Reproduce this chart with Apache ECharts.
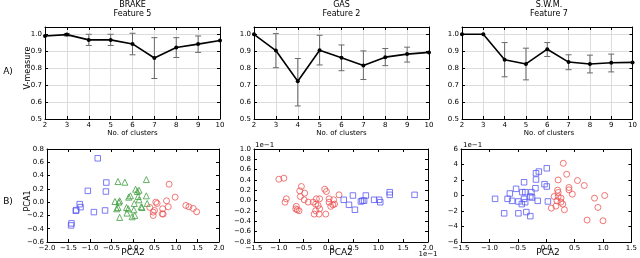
<!DOCTYPE html>
<html><head><meta charset="utf-8">
<script src="https://cdn.jsdelivr.net/npm/echarts@6/dist/echarts.min.js"></script>
<style>html,body{margin:0;padding:0;background:#fff}#c{width:640px;height:258px}</style>
</head><body><div id="c"></div>
<script>
const clusters = [2,3,4,5,6,7,8,9,10];
const brakeV  = [0.99, 0.998, 0.967, 0.967, 0.943, 0.86, 0.922, 0.942, 0.963];
const brakeLo = [null, 0.99, 0.934, 0.934, 0.879, 0.739, 0.863, 0.893, null];
const brakeHi = [null, 1.005, 1.0, 1.0, 1.006, 0.98, 0.98, 0.99, null];
const gasV  = [1.0, 0.904, 0.723, 0.906, 0.861, 0.816, 0.865, 0.883, 0.893];
const gasLo = [null, 0.803, 0.577, 0.819, 0.785, 0.733, 0.815, 0.836, null];
const gasHi = [null, 1.004, 0.857, 0.994, 0.937, 0.902, 0.916, 0.924, null];
const swmV  = [1.0, 1.0, 0.85, 0.825, 0.912, 0.836, 0.825, 0.832, 0.834];
const swmLo = [null, null, 0.749, 0.731, 0.869, 0.791, 0.772, 0.778, null];
const swmHi = [null, null, 0.951, 0.918, 0.951, 0.879, 0.877, 0.883, null];

// BRAKE scatter [PCA2, PCA1]
const brakeBlue = [[-0.82,0.66],[-0.62,0.295],[-0.63,0.16],[-1.05,0.17],[-1.24,-0.03],[-1.22,-0.075],[-1.32,-0.12],[-1.33,-0.13],[-0.91,-0.15],[-0.65,-0.125],[-1.43,-0.32],[-1.44,-0.35]];
const brakeGreen = [[-0.35,0.31],[-0.19,0.30],[0.06,0.195],[0.14,0.18],[0.10,0.16],[0.31,0.34],[-0.06,0.095],[-0.10,0.075],[0.12,0.085],[0.31,0.095],[-0.42,0.01],[-0.31,0.02],[-0.33,0.0],[0.03,-0.02],[0.14,0.035],[0.33,-0.02],[-0.15,-0.08],[-0.11,-0.1],[-0.38,-0.1],[-0.35,-0.08],[0.02,-0.115],[0.19,-0.07],[0.21,-0.08],[-0.14,-0.165],[-0.02,-0.22],[0.04,-0.20],[-0.31,-0.23]];
const brakeRed = [[0.84,0.27],[0.98,0.075],[0.53,0.0],[0.56,-0.02],[0.78,0.02],[0.82,-0.07],[0.39,-0.08],[0.50,-0.125],[0.47,-0.2],[0.47,-0.15],[0.69,-0.1],[0.70,-0.18],[0.68,-0.175],[1.23,-0.05],[1.30,-0.07],[1.40,-0.095],[1.48,-0.145]];
// GAS scatter (x1e-1)
const gasRed = [[-1.0,0.415],[-0.90,0.435],[-0.85,0.036],[-0.876,-0.03],[-0.547,0.274],[-0.58,0.19],[-0.48,0.145],[-0.567,0.08],[-0.65,-0.11],[-0.63,-0.176],[-0.594,-0.195],[-0.66,-0.16],[-0.49,0.017],[-0.41,-0.028],[-0.31,-0.028],[-0.245,0.036],[-0.18,0.036],[-0.26,-0.067],[-0.21,-0.093],[-0.18,-0.157],[-0.26,-0.195],[-0.29,-0.26],[-0.19,-0.26],[-0.077,0.222],[-0.044,0.177],[0.01,0.036],[0.01,-0.03],[-0.057,-0.26],[0.10,0.017],[0.12,-0.067],[0.086,-0.08],[0.21,0.113],[0.044,-0.11]];
const gasBlue = [[0.305,0.017],[0.41,-0.08],[0.49,0.10],[0.53,-0.176],[0.65,-0.015],[0.68,0.0],[0.715,0.0],[0.75,0.10],[0.916,0.017],[1.017,0.017],[1.04,-0.03],[1.23,0.164],[1.23,0.113],[1.73,0.113]];
// S.W.M. scatter (x1e-1)
const swmBlue = [[-0.90,-0.43],[-0.74,-2.3],[-0.68,-0.43],[-0.64,0.26],[-0.60,-0.69],[-0.53,0.86],[-0.49,-0.77],[-0.49,-2.3],[-0.42,0.43],[-0.39,1.71],[-0.37,0.43],[-0.39,-0.43],[-0.37,-0.86],[-0.43,-1.11],[-0.35,-2.14],[-0.28,-2.66],[-0.26,0.43],[-0.25,-0.26],[-0.28,-0.13],[-0.19,0.94],[-0.18,2.06],[-0.18,2.87],[-0.13,3.09],[-0.15,-0.69],[-0.03,1.46],[0.01,1.16],[0.01,3.51],[0.03,-0.77]];
const swmRed = [[0.30,4.16],[0.36,2.74],[0.21,2.01],[0.55,1.93],[0.67,1.29],[0.40,1.03],[0.40,0.73],[0.20,0.69],[0.21,0.39],[0.14,-0.13],[0.21,-0.13],[0.26,-0.34],[0.46,0.17],[0.19,-0.69],[0.26,-0.86],[0.29,-1.11],[0.17,-1.37],[0.09,-1.63],[0.32,-1.84],[0.85,-0.34],[1.03,0.0],[0.91,-1.54],[0.72,-3.17],[1.00,-3.26]];

const FONT = 'DejaVu Sans';
const BLUE = '#5a5af0', RED = '#ee5555', GREEN = '#3f9f3f';

function fmt(d){ return v => { const r = Math.round(v*1000)/1000; const s = Math.abs(r).toFixed(d); return (r<0?'\u2212':'')+s; }; }

const grids = [
  {left:45, top:27, width:175, height:92},
  {left:254, top:27, width:175, height:92},
  {left:462, top:27, width:174, height:92},
  {left:47, top:149, width:172, height:93},
  {left:254, top:149, width:174, height:93},
  {left:461, top:149, width:174, height:93}
];
const xr = [
  {min:2,max:10,interval:1,d:0,grid:true},
  {min:2,max:10,interval:1,d:0,grid:true},
  {min:2,max:10,interval:1,d:0,grid:true},
  {min:-2,max:2,interval:0.5,d:1},
  {min:-1.5,max:2,interval:0.5,d:1},
  {min:-1.5,max:1.5,interval:0.5,d:1}
];
const yr = [
  {min:0.5,max:1.043,interval:0.1,d:1,grid:true,hideMax:true},
  {min:0.5,max:1.043,interval:0.1,d:1,grid:true,hideMax:true},
  {min:0.5,max:1.043,interval:0.1,d:1,grid:true,hideMax:true},
  {min:-0.6,max:0.8,interval:0.2,d:1},
  {min:-0.8,max:1.0,interval:0.2,d:1},
  {min:-6,max:6,interval:2,d:0}
];
const xAxis = [], yAxis = [];
const lbl = (d, hideMax) => ({fontSize:7, color:'#000', fontFamily:FONT, margin:3, formatter:fmt(d), showMaxLabel: hideMax?false:true, showMinLabel:true});
for (let i=0;i<6;i++){
  const a = xr[i], b = yr[i];
  xAxis.push({type:'value', gridIndex:i, min:a.min, max:a.max, interval:a.interval, position:'bottom',
    axisLine:{show:true, onZero:false, lineStyle:{color:'#000',width:1}},
    axisTick:{show:true, inside:true, length:3, lineStyle:{color:'#000'}},
    axisLabel:lbl(a.d,false),
    splitLine:{show:!!a.grid, lineStyle:{color:'#dcdcdc', width:1}}});
  yAxis.push({type:'value', gridIndex:i, min:b.min, max:b.max, interval:b.interval, position:'left',
    axisLine:{show:true, onZero:false, lineStyle:{color:'#000',width:1}},
    axisTick:{show:true, inside:true, length:3, lineStyle:{color:'#000'}},
    axisLabel:lbl(b.d,b.hideMax),
    splitLine:{show:!!b.grid, lineStyle:{color:'#dcdcdc', width:1}}});
}
for (let i=0;i<6;i++){
  const a = xr[i], b = yr[i];
  xAxis.push({type:'value', gridIndex:i, min:a.min, max:a.max, interval:a.interval, position:'top',
    axisLine:{show:true, onZero:false, lineStyle:{color:'#000',width:1}},
    axisTick:{show:true, inside:true, length:3, lineStyle:{color:'#000'}},
    axisLabel:{show:false}, splitLine:{show:false}});
  yAxis.push({type:'value', gridIndex:i, min:b.min, max:b.max, interval:b.interval, position:'right',
    axisLine:{show:true, onZero:false, lineStyle:{color:'#000',width:1}},
    axisTick:{show:true, inside:true, length:3, lineStyle:{color:'#000'}},
    axisLabel:{show:false}, splitLine:{show:false}});
}

const series = [];
function errSeries(gi, lo, hi){
  const data = [];
  clusters.forEach((c,k)=>{ if (lo[k]!=null) data.push([c, lo[k], hi[k]]); });
  return {type:'custom', xAxisIndex:gi, yAxisIndex:gi, data, z:3,
    renderItem:(params, api)=>{
      const x = api.value(0);
      const p1 = api.coord([x, api.value(1)]), p2 = api.coord([x, api.value(2)]);
      const w = 3, st = {stroke:'#6a6a6a', lineWidth:1};
      return {type:'group', children:[
        {type:'line', shape:{x1:p1[0],y1:p1[1],x2:p2[0],y2:p2[1]}, style:st},
        {type:'line', shape:{x1:p1[0]-w,y1:p1[1],x2:p1[0]+w,y2:p1[1]}, style:st},
        {type:'line', shape:{x1:p2[0]-w,y1:p2[1],x2:p2[0]+w,y2:p2[1]}, style:st}
      ]};
    }};
}
function lineSeries(gi, v){
  return {type:'line', xAxisIndex:gi, yAxisIndex:gi, data:clusters.map((c,k)=>[c,v[k]]), z:4,
    symbol:'circle', symbolSize:4, showSymbol:true, clip:false,
    lineStyle:{color:'#000', width:1.6}, itemStyle:{color:'#000'}};
}
[[brakeV,brakeLo,brakeHi],[gasV,gasLo,gasHi],[swmV,swmLo,swmHi]].forEach((s,i)=>{
  series.push(errSeries(i, s[1], s[2]));
  series.push(lineSeries(i, s[0]));
});
function sc(gi, data, symbol, color, size){
  return {type:'scatter', xAxisIndex:gi, yAxisIndex:gi, data, symbol, symbolSize:size,
    itemStyle:{color:'transparent', borderColor:color, borderWidth:1}};
}
series.push(sc(3, brakeBlue, 'rect', BLUE, 5.5));
series.push(sc(3, brakeGreen, 'triangle', GREEN, 6));
series.push(sc(3, brakeRed, 'circle', RED, 6));
series.push(sc(4, gasRed, 'circle', RED, 6));
series.push(sc(4, gasBlue, 'rect', BLUE, 5.5));
series.push(sc(5, swmBlue, 'rect', BLUE, 5.5));
series.push(sc(5, swmRed, 'circle', RED, 6));

const T = (x,y,text,size,extra) => Object.assign({type:'text', x, y, style:{text, fontSize:size, fontFamily:FONT, fill:'#000', textAlign:'center', textVerticalAlign:'middle'}}, extra||{});
const graphic = [
  T(132.5,4.5,'BRAKE',8), T(132.5,14,'Feature 5',8),
  T(341.5,4.5,'GAS',8), T(341.5,14,'Feature 2',8),
  T(549,4.5,'S.W.M.',8), T(549,14,'Feature 7',8),
  T(132.5,133,'No. of clusters',7), T(341.5,133,'No. of clusters',7), T(549,133,'No. of clusters',7),
  T(133,253,'PCA2',9), T(341,253,'PCA2',9), T(548,253,'PCA2',9),
  T(8,72,'A)',9), T(8,202,'B)',9),
  {type:'text', x:28, y:68, rotation:Math.PI/2, style:{text:'V-measure', fontSize:8, fontFamily:FONT, fill:'#000', textAlign:'center', textVerticalAlign:'middle'}},
  {type:'text', x:28, y:201, rotation:Math.PI/2, style:{text:'PCA1', fontSize:8, fontFamily:FONT, fill:'#000', textAlign:'center', textVerticalAlign:'middle'}},
  {type:'text', x:255, y:145, style:{text:'1e\u22121', fontSize:7, fontFamily:FONT, fill:'#000', textAlign:'left', textVerticalAlign:'middle'}},
  {type:'text', x:463, y:145, style:{text:'1e\u22121', fontSize:7, fontFamily:FONT, fill:'#000', textAlign:'left', textVerticalAlign:'middle'}},
  {type:'text', x:428, y:254, style:{text:'1e\u22121', fontSize:7, fontFamily:FONT, fill:'#000', textAlign:'center', textVerticalAlign:'middle'}}
];

const chart = echarts.init(document.getElementById('c'), null, {renderer:'canvas'});
chart.setOption({animation:false, backgroundColor:'#fff', grid:grids, xAxis, yAxis, series, graphic});
</script></body></html>
